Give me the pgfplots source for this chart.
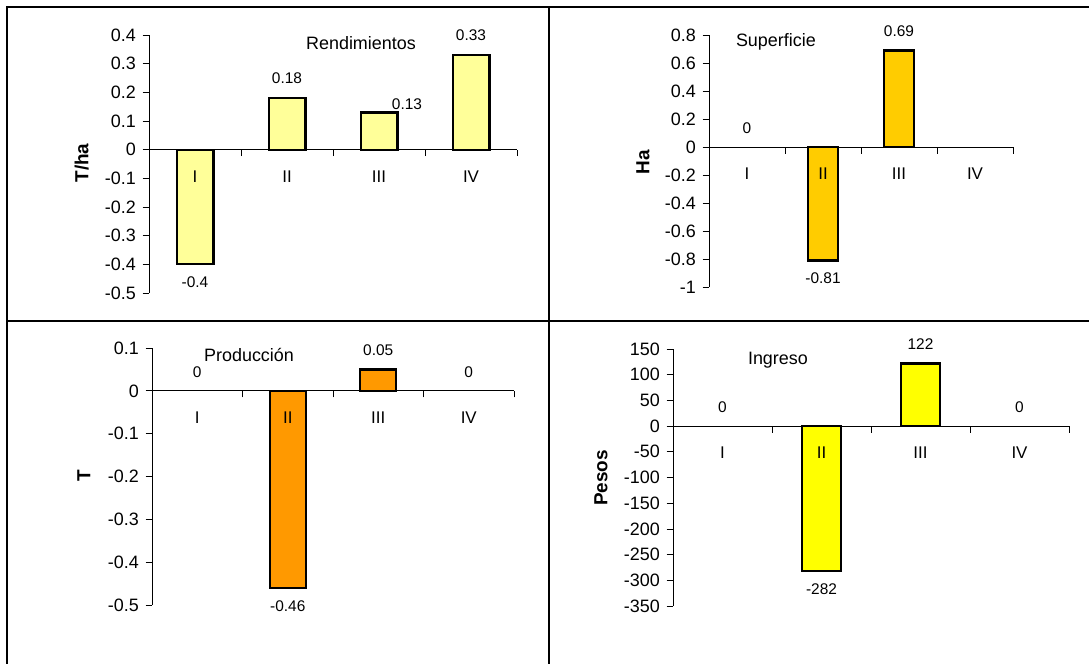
\documentclass[border=0pt]{standalone}
\usepackage{pgfplots}
\pgfplotsset{compat=1.18}
\usepackage{fontspec}
\setmainfont{Liberation Sans}
\definecolor{c1}{HTML}{FFFF99}
\definecolor{c2}{HTML}{FFCC00}
\definecolor{c3}{HTML}{FF9900}
\definecolor{c4}{HTML}{FFFF00}
\tikzset{ttl/.style={font=\fontsize{18}{18}\selectfont}}
\pgfplotsset{
  panel/.style={
    scale only axis,
    anchor=south west,
    axis on top,
    axis x line=middle,
    axis y line=left,
    axis line style={-, line width=0.8bp, black},
    xmin=0.5, xmax=4.5,
    xtick={0.5,1.5,2.5,3.5,4.5},
    xticklabels={},
    xtick align=outside,
    extra x ticks={1,2,3,4},
    extra x tick labels={I,II,III,IV},
    extra x tick style={major tick length=0pt},
    ytick align=outside,
    major tick length=6.5bp,
    tick style={line width=0.8bp, black},
    scaled ticks=false,
    xticklabel style={anchor=center, yshift=-27bp, inner sep=0pt, font=\fontsize{17}{17}\selectfont},
    yticklabel style={font=\fontsize{18}{18}\selectfont, inner xsep=6.5bp},
    ybar, bar shift=0pt, bar width=0.4,
    point meta=explicit symbolic,
    nodes near coords,
    every node near coord/.append style={font=\fontsize{15.5}{15.5}\selectfont, inner xsep=0pt, inner ysep=13bp},
    clip=false,
  },
  bars/.style={draw=black, line width=2.2bp, fill=#1},
  neg/.style={every node near coord/.append style={yshift=-37.5bp}},
  zeros/.style={draw=none, mark=none, fill=none, forget plot},
  ylab/.style={every axis y label/.style={at={(axis description cs:#1)}, rotate=90, anchor=center, font=\fontsize{19}{19}\selectfont}},
}
\begin{document}
\begin{tikzpicture}
\useasboundingbox (0bp,0bp) rectangle (1089bp,-664bp);
% table lines
\draw[line width=2.6bp] (7bp,-664bp) -- (7bp,-7bp) -- (1089bp,-7bp);
\draw[line width=2.6bp] (549bp,-7bp) -- (549bp,-664bp);
\draw[line width=2.6bp] (7bp,-321bp) -- (1089bp,-321bp);

% Panel 1: Rendimientos
\begin{axis}[panel, at={(149bp,-293bp)}, width=368bp, height=258bp,
  ymin=-0.5, ymax=0.4, ytick={-0.5,-0.4,-0.3,-0.2,-0.1,0,0.1,0.2,0.3,0.4},
  yticklabels={-0.5,-0.4,-0.3,-0.2,-0.1,0,0.1,0.2,0.3,0.4},
  ylabel={\bfseries T/ha}, ylab={-0.183,0.504}]
\addplot[bars=c1, neg] coordinates {(1,-0.4) [-0.4]};
\addplot[bars=c1] coordinates {(2,0.18) [0.18] (4,0.33) [0.33]};
\addplot[bars=c1, every node near coord/.append style={xshift=28bp, yshift=-11bp}] coordinates {(3,0.13) [0.13]};
\node[ttl] at (axis description cs:0.576,0.969) {Rendimientos};
\end{axis}

% Panel 2: Superficie
\begin{axis}[panel, at={(709bp,-287bp)}, width=304bp, height=252bp,
  ymin=-1, ymax=0.8, ytick={-1,-0.8,-0.6,-0.4,-0.2,0,0.2,0.4,0.6,0.8},
  yticklabels={-1,-0.8,-0.6,-0.4,-0.2,0,0.2,0.4,0.6,0.8},
  ylabel={\bfseries Ha}, ylab={-0.217,0.496}]
\addplot[bars=c2, neg] coordinates {(2,-0.81) [-0.81]};
\addplot[bars=c2] coordinates {(3,0.69) [0.69]};
\addplot[zeros] coordinates {(1,0) [0]};
\node[ttl] at (axis description cs:0.220,0.972) {Superficie};
\end{axis}

% Panel 3: Produccion
\begin{axis}[panel, at={(152bp,-605bp)}, width=362bp, height=257bp,
  ymin=-0.5, ymax=0.1, ytick={-0.5,-0.4,-0.3,-0.2,-0.1,0,0.1},
  yticklabels={-0.5,-0.4,-0.3,-0.2,-0.1,0,0.1},
  ylabel={\bfseries T}, ylab={-0.188,0.502}]
\addplot[bars=c3, neg] coordinates {(2,-0.46) [-0.46]};
\addplot[bars=c3] coordinates {(3,0.05) [0.05]};
\addplot[zeros] coordinates {(1,0) [0] (4,0) [0]};
\node[ttl] at (axis description cs:0.268,0.973) {Producción};
\end{axis}

% Panel 4: Ingreso
\begin{axis}[panel, at={(673bp,-606bp)}, width=396bp, height=257bp,
  ymin=-350, ymax=150, ytick={-350,-300,-250,-200,-150,-100,-50,0,50,100,150},
  yticklabels={-350,-300,-250,-200,-150,-100,-50,0,50,100,150},
  ylabel={\bfseries Pesos}, ylab={-0.182,0.498}]
\addplot[bars=c4, neg] coordinates {(2,-282) [-282]};
\addplot[bars=c4] coordinates {(3,122) [122]};
\addplot[zeros] coordinates {(1,0) [0] (4,0) [0]};
\node[ttl] at (axis description cs:0.265,0.957) {Ingreso};
\end{axis}
\end{tikzpicture}
\end{document}
